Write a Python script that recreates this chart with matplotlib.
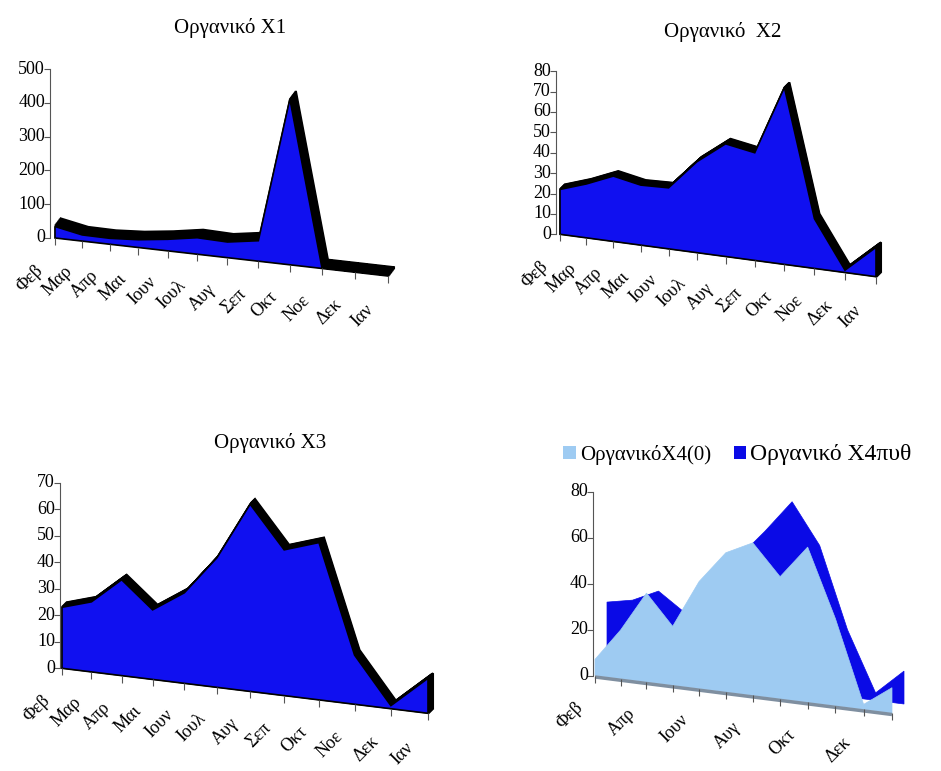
import numpy as np
import matplotlib
matplotlib.use('Agg')
import matplotlib.pyplot as plt
import matplotlib.transforms as mtransforms
import matplotlib.lines as mlines
from matplotlib.patches import Patch

plt.rcParams['font.family'] = ['Liberation Serif', 'DejaVu Serif']

months = ['Φεβ', 'Μαρ', 'Απρ', 'Μαι', 'Ιουν', 'Ιουλ', 'Αυγ', 'Σεπ', 'Οκτ', 'Νοε', 'Δεκ', 'Ιαν']

organic_x1 = [34, 18, 17, 22, 32, 45, 42, 54, 430, 2, 2, 2]
organic_x2 = [22, 26, 31, 28, 28, 41, 50, 47, 76, 21, 1, 12]
organic_x3 = [23, 26, 35, 25, 32, 45, 64, 49, 52, 16, 1, 11]
organic_x4_0 = [7, 21, 38, 25, 45, 58, 63, 50, 63, 35, 2, 10]
organic_x4_pyth = [28, 30, 35, 27, 45, 52, 64, 77, 60, 27, 3, 13]

BLUE = '#1010F0'
LIGHT = '#9ECBF2'
DARK = '#0A0AE6'


class FloorProjection(mtransforms.Transform):
    """(category, value) -> pixel position on a tilted, receding floor."""
    input_dims = output_dims = 2
    is_separable = False
    has_inverse = False

    def __init__(self, left, right, scale, recede, grow, n=12):
        super().__init__()
        self.left = np.asarray(left, float)
        self.right = np.asarray(right, float)
        self.scale = scale
        self.recede = recede
        self.grow = grow
        self.n = n

    def transform_non_affine(self, values):
        values = np.asarray(values, float).reshape(-1, 2)
        t = values[:, 0] / (self.n - 1)
        p = t * (1 + self.recede * t) / (1 + self.recede)
        px = self.left[0] + (self.right[0] - self.left[0]) * p
        py = self.left[1] + (self.right[1] - self.left[1]) * p
        py = py - values[:, 1] * self.scale * (1 + self.grow * p)
        return np.column_stack([px, py])


fig = plt.figure(figsize=(9.41, 7.71), dpi=100)
ax = fig.add_axes([0, 0, 1, 1])
ax.set_xlim(0, 941)
ax.set_ylim(771, 0)
ax.set_autoscale_on(False)
ax.axis('off')


def shifted(trans, dx, dy):
    # dx, dy in pixels, dy positive = up
    return trans + mtransforms.ScaledTranslation(dx / 100, dy / 100, fig.dpi_scale_trans)


def outline(values):
    cats = np.arange(len(values))
    xs = np.r_[0, cats, cats[-1]]
    vs = np.r_[0, values, 0]
    return xs, vs


def draw_axes(T, yticks, gap, fs=13, label_every=1):
    ya = shifted(T, -gap, 0)
    ax.plot([0, 0], [0, yticks[-1]], transform=ya, color='#555555', lw=0.8)
    for v in yticks:
        ax.plot([0], [v], transform=ya, marker=mlines.TICKLEFT, ms=4, mew=0.8, color='#555555')
        ax.text(0, v, str(v), transform=shifted(ya, -5, 0), ha='right', va='center', fontsize=fs)
    for i, m in enumerate(months):
        ax.plot([i], [0], transform=T, marker=mlines.TICKDOWN, ms=5, mew=0.8, color='#555555')
        if i % label_every == 0:
            ax.text(i, 0, m, transform=shifted(T, -25, -40), rotation=45,
                    rotation_mode='anchor', ha='center', va='center', fontsize=fs)


def area_panel(values, proj, depth, title, title_xy, yticks, gap):
    T = proj + ax.transData
    xs, vs = outline(values)
    steps = 10
    for j in range(steps, 0, -1):
        f = j / steps
        ax.fill(xs, vs, transform=shifted(T, depth[0] * f, depth[1] * f),
                fc='black', ec='black', lw=1.5)
    ax.fill(xs, vs, transform=T, fc=BLUE, ec='black', lw=1.2)
    draw_axes(T, yticks, gap)
    ax.text(title_xy[0], title_xy[1], title, ha='center', va='center', fontsize=15)


# Οργανικό Χ1
area_panel(organic_x1, FloorProjection((55, 238), (388, 276), 0.338, 0.125, 0.2),
           (6, 8), 'Οργανικό Χ1', (230, 28), list(range(0, 501, 100)), 5)

# Οργανικό Χ2
area_panel(organic_x2, FloorProjection((560, 234.3), (876, 276.7), 2.04, 0.095, 0.2),
           (5, 5), 'Οργανικό  Χ2', (723, 32), list(range(0, 81, 10)), 4)

# Οργανικό Χ3
area_panel(organic_x3, FloorProjection((62, 668.3), (428, 713.3), 2.653, 0.145, 0.2),
           (5, 5), 'Οργανικό Χ3', (270, 443), list(range(0, 71, 10)), 2)

# Οργανικό Χ4: two series, one row behind the other
proj4 = FloorProjection((595, 675.5), (892, 713), 2.3, 0.06, 0.1)
T4 = proj4 + ax.transData
xs, vs = outline(organic_x4_pyth)
ax.fill(xs, vs, transform=shifted(T4, 12, 9), fc=DARK, ec=DARK, lw=0.5)
ax.plot([0, 11], [0, 0], transform=shifted(T4, 0, -1.5), color='#7F8FA0', lw=2.5,
        solid_capstyle='butt')
xs, vs = outline(organic_x4_0)
ax.fill(xs, vs, transform=T4, fc=LIGHT, ec=LIGHT, lw=0.5)
draw_axes(T4, list(range(0, 81, 20)), 2, label_every=2)

handles = [Patch(fc=LIGHT, ec='none'), Patch(fc=DARK, ec='none')]
leg = ax.legend(handles, ['ΟργανικόΧ4(0)', 'Οργανικό Χ4πυθ'], ncol=2, frameon=False,
                loc='upper left', bbox_to_anchor=(563 / 941, 1 - 444 / 771),
                fontsize=15, handlelength=0.6, handleheight=0.6, handletextpad=0.2,
                columnspacing=1.1, borderpad=0, borderaxespad=0)
leg.get_texts()[1].set_fontsize(17)

fig.savefig('out.png', dpi=100)
